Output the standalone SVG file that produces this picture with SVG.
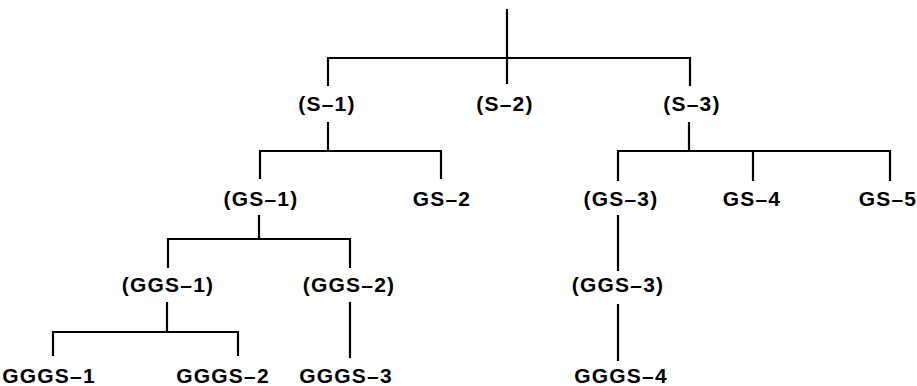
<svg xmlns="http://www.w3.org/2000/svg" width="917" height="386" viewBox="0 0 917 386">
<style>
.c{stroke:#000;stroke-width:2.2;fill:none;stroke-linecap:square}
text{font-family:"Liberation Sans",Arial,sans-serif;font-weight:bold;font-size:21px;letter-spacing:1.2px;text-anchor:middle;fill:#000}
</style>
<rect width="917" height="386" fill="#fff"/>
<g id="connectors">
<path class="c" d="M507 10V83M328 58H690M328 58V85M690 58V85"/>
<path class="c" d="M328 123V151M260 151H441M260 151V178M441 151V178"/>
<path class="c" d="M689 123V151M618 151H890M618 151V180M753 151V180M890 151V180"/>
<path class="c" d="M259 216V239M168 239H350M168 239V267M350 239V267"/>
<path class="c" d="M167 303V332M53 332H238M53 332V355M238 332V355"/>
<path class="c" d="M350 303V357"/>
<path class="c" d="M618 216V270M618 305V360"/>
</g>
<g id="s1"><text x="327" y="111">(S–1)</text></g>
<g id="s2"><text x="505" y="111">(S–2)</text></g>
<g id="s3"><text x="692" y="111">(S–3)</text></g>
<g id="gs1"><text x="261" y="206">(GS–1)</text></g>
<g id="gs2"><text x="442" y="206">GS–2</text></g>
<g id="gs3"><text x="621" y="206">(GS–3)</text></g>
<g id="gs4"><text x="752" y="206">GS–4</text></g>
<g id="gs5"><text x="888" y="206">GS–5</text></g>
<g id="ggs1"><text x="168" y="292">(GGS–1)</text></g>
<g id="ggs2"><text x="349" y="292">(GGS–2)</text></g>
<g id="ggs3"><text x="618" y="292">(GGS–3)</text></g>
<g id="gggs1"><text x="49" y="383">GGGS–1</text></g>
<g id="gggs2"><text x="223" y="383">GGGS–2</text></g>
<g id="gggs3"><text x="346" y="383">GGGS–3</text></g>
<g id="gggs4"><text x="621" y="383">GGGS–4</text></g>
</svg>
